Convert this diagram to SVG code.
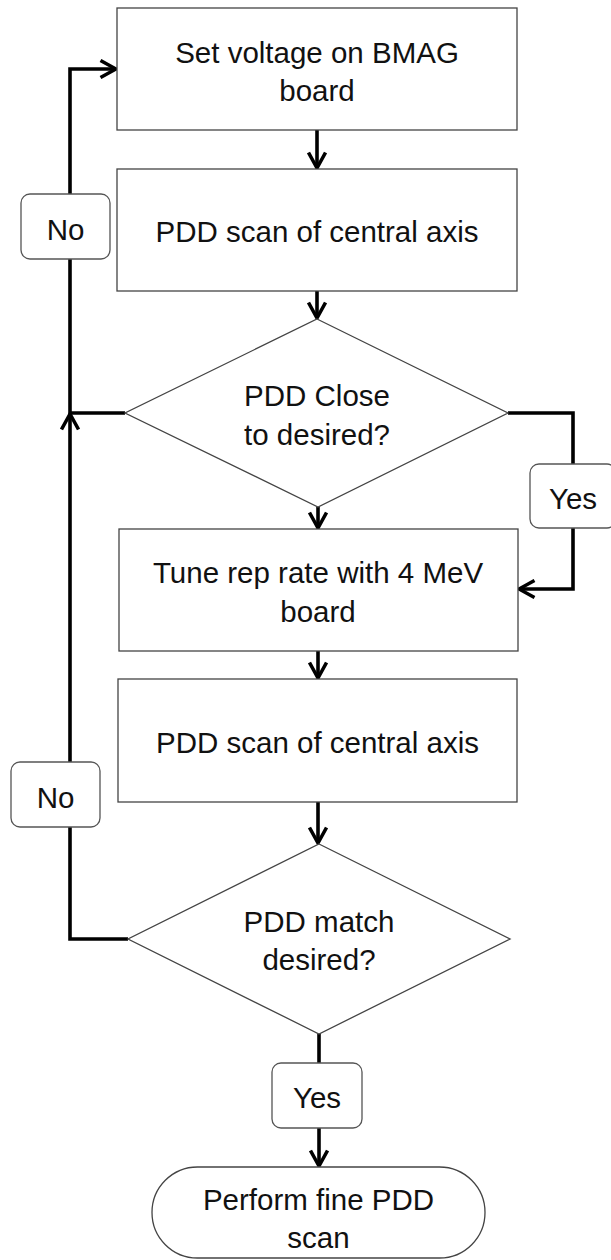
<svg xmlns="http://www.w3.org/2000/svg" width="611" height="1260" viewBox="0 0 611 1260">
  <style>
    .shape { fill: #ffffff; stroke: #444444; stroke-width: 1.3; }
    .lbl { fill: #ffffff; stroke: #555555; stroke-width: 1.3; }
    .txt { font-family: "Liberation Sans", Arial, sans-serif; font-size: 29.5px; fill: #111111; text-anchor: middle; }
    .conn { fill: none; stroke: #000000; stroke-width: 3.6; stroke-linejoin: miter; }
  </style>
  <defs>
    <marker id="arrow" markerUnits="userSpaceOnUse" viewBox="0 0 20 20" markerWidth="20" markerHeight="20" refX="17" refY="10" orient="auto">
      <path d="M1.5,1.5 L17,10 L1.5,18.5" fill="none" stroke="#000000" stroke-width="3.5"/>
    </marker>
  </defs>
  <rect width="611" height="1260" fill="#ffffff"/>

  <g id="connectors">
    <path class="conn" d="M317,130 V168" marker-end="url(#arrow)"/>
    <path class="conn" d="M317,291 V318" marker-end="url(#arrow)"/>
    <path class="conn" d="M318,507 V528" marker-end="url(#arrow)"/>
    <path class="conn" d="M508,413 H573 V589 H519" marker-end="url(#arrow)"/>
    <path class="conn" d="M125,413 H70 V69 H116" marker-end="url(#arrow)"/>
    <path class="conn" d="M318,651 V678" marker-end="url(#arrow)"/>
    <path class="conn" d="M318,802 V843" marker-end="url(#arrow)"/>
    <path class="conn" d="M128,939 H70 V414" marker-end="url(#arrow)"/>
    <path class="conn" d="M319,1034 V1166" marker-end="url(#arrow)"/>
  </g>

  <g id="set-voltage">
    <rect class="shape" x="117" y="8" width="400" height="122"/>
    <text class="txt" x="317" y="63">Set voltage on BMAG</text>
    <text class="txt" x="317" y="101">board</text>
  </g>

  <g id="pdd-scan-1">
    <rect class="shape" x="117" y="169" width="400" height="122"/>
    <text class="txt" x="317" y="242">PDD scan of central axis</text>
  </g>

  <g id="decision-close">
    <polygon class="shape" points="317,319 508,413 318,507 125,413"/>
    <text class="txt" x="317" y="406">PDD Close</text>
    <text class="txt" x="317" y="445">to desired?</text>
  </g>

  <g id="tune-rep-rate">
    <rect class="shape" x="119" y="529" width="399" height="122"/>
    <text class="txt" x="318" y="583">Tune rep rate with 4 MeV</text>
    <text class="txt" x="318" y="622">board</text>
  </g>

  <g id="pdd-scan-2">
    <rect class="shape" x="118" y="679" width="399" height="123"/>
    <text class="txt" x="317.5" y="753">PDD scan of central axis</text>
  </g>

  <g id="decision-match">
    <polygon class="shape" points="319,844 510,939 319,1034 128,939"/>
    <text class="txt" x="319" y="932">PDD match</text>
    <text class="txt" x="319" y="970">desired?</text>
  </g>

  <g id="perform-fine-scan">
    <rect class="shape" x="152" y="1167" width="333" height="91" rx="45.5" ry="45.5"/>
    <text class="txt" x="318.5" y="1210">Perform fine PDD</text>
    <text class="txt" x="318.5" y="1248">scan</text>
  </g>

  <g id="label-no-1">
    <rect class="lbl" x="21" y="194" width="89" height="65" rx="9" ry="9"/>
    <text class="txt" x="65.5" y="240">No</text>
  </g>

  <g id="label-yes-1">
    <rect class="lbl" x="530" y="464" width="86" height="64" rx="9" ry="9"/>
    <text class="txt" x="573" y="509">Yes</text>
  </g>

  <g id="label-no-2">
    <rect class="lbl" x="11" y="762" width="89" height="65" rx="9" ry="9"/>
    <text class="txt" x="55.5" y="808">No</text>
  </g>

  <g id="label-yes-2">
    <rect class="lbl" x="272" y="1063" width="90" height="65" rx="9" ry="9"/>
    <text class="txt" x="317" y="1108">Yes</text>
  </g>
</svg>
